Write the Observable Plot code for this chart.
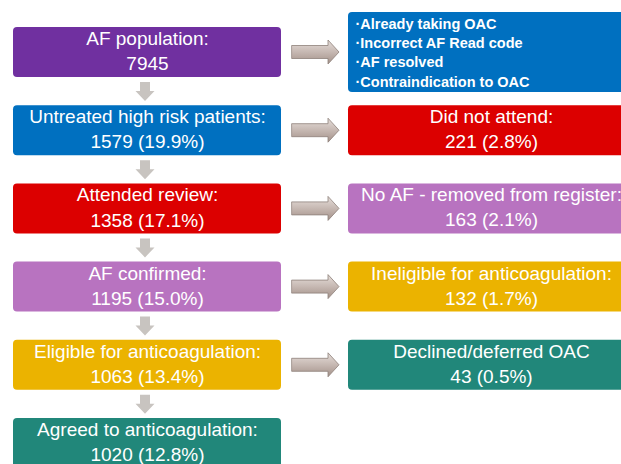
<!DOCTYPE html>
<html>
<head>
<meta charset="utf-8">
<script src="https://cdn.jsdelivr.net/npm/d3@7"></script>
<script src="https://cdn.jsdelivr.net/npm/@observablehq/plot@0.6"></script>
<style>
  html, body { margin: 0; padding: 0; background: #fff; overflow: hidden; }
  #chart svg { display: block; overflow: hidden; }
</style>
</head>
<body>
<div id="chart"></div>
<script>
// ---------------- data ----------------
const stageLabels = [
  "AF population:",
  "Untreated high risk patients:",
  "Attended review:",
  "AF confirmed:",
  "Eligible for anticoagulation:",
  "Agreed to anticoagulation:"
];
const stageCounts = [7945, 1579, 1358, 1195, 1063, 1020];
const stagePercents = [null, 19.9, 17.1, 15.0, 13.4, 12.8];

const firstExclusionReasons = [
  "Already taking OAC",
  "Incorrect AF Read code",
  "AF resolved",
  "Contraindication to OAC"
];
const exclusionLabels = [
  "Did not attend:",
  "No AF - removed from register:",
  "Ineligible for anticoagulation:",
  "Declined/deferred OAC"
];
const exclusionCounts = [221, 163, 132, 43];
const exclusionPercents = [2.8, 2.1, 1.7, 0.5];

// ---------------- styles ----------------
const stagePalette = ["#7030A0", "#0070C0", "#DC0000", "#B873C0", "#EBB300", "#21877A"];

// ---------------- layout (pixel units of the chart) ----------------
const W = 621, H = 464;
const L = {
  leftX1: 13, leftX2: 281,
  rightX1: 348, rightX2: 634,
  top0: 27, step: 78.2, boxH: 50,
  firstRightTop: 12, firstRightBottom: 92,
  bulletX: 355,
  arrowX1: 292, arrowNeck: 328, arrowTip: 339, shaftHalf: 6.5, headHalf: 12,
  downCx: 145, downShaftHalf: 5, downHeadHalf: 9.5, downStart: 5, downNeck: 14, downEnd: 24
};
const rowTop = i => L.top0 + L.step * i;
const rowMid = i => rowTop(i) + L.boxH / 2;
const fmt = (n, p) => p == null ? `${n}` : `${n} (${p.toFixed(1)}%)`;

const stages = stageLabels.map((label, i) => ({
  label, count: stageCounts[i], pct: stagePercents[i], i,
  color: stagePalette[i],
  x1: L.leftX1, x2: L.leftX2, y1: rowTop(i), y2: rowTop(i) + L.boxH
}));

const exclusions = [
  {i: 0, color: stagePalette[1], x1: L.rightX1, x2: L.rightX2, y1: L.firstRightTop, y2: L.firstRightBottom, text: null}
].concat(exclusionLabels.map((label, k) => ({
  i: k + 1, color: stagePalette[k + 2],
  x1: L.rightX1, x2: L.rightX2, y1: rowTop(k + 1), y2: rowTop(k + 1) + L.boxH,
  text: label + "\n" + fmt(exclusionCounts[k], exclusionPercents[k])
})));

// right block arrows (one per exclusion box) drawn as areas
const rightArrowPts = [];
exclusions.forEach((e, k) => {
  const c = rowMid(k);
  const pts = [
    [L.arrowX1, c - L.shaftHalf, c + L.shaftHalf],
    [L.arrowNeck, c - L.shaftHalf, c + L.shaftHalf],
    [L.arrowNeck, c - L.headHalf, c + L.headHalf],
    [L.arrowTip, c, c]
  ];
  pts.forEach(([x, y1, y2]) => rightArrowPts.push({id: k, x, y1, y2}));
});

// down block arrows between stages
const downArrowPts = [];
for (let i = 0; i < stages.length - 1; i++) {
  const b = stages[i].y2;
  const c = L.downCx;
  const pts = [
    [b + L.downStart, c - L.downShaftHalf, c + L.downShaftHalf],
    [b + L.downNeck, c - L.downShaftHalf, c + L.downShaftHalf],
    [b + L.downNeck, c - L.downHeadHalf, c + L.downHeadHalf],
    [b + L.downEnd, c, c]
  ];
  pts.forEach(([y, x1, x2]) => downArrowPts.push({id: i, y, x1, x2}));
}

const font = "Liberation Sans, Arial, Helvetica, sans-serif";

const chart = Plot.plot({
  width: W, height: H, margin: 0,
  x: {domain: [0, W], range: [0, W], axis: null},
  y: {domain: [0, H], range: [0, H], axis: null},
  color: {type: "identity"},
  style: {fontFamily: font, background: "#fff"},
  marks: [
    Plot.rect(stages, {x1: "x1", x2: "x2", y1: "y1", y2: "y2", fill: "color", rx: 4}),
    Plot.rect(exclusions, {x1: "x1", x2: "x2", y1: "y1", y2: "y2", fill: "color", rx: 4}),
    Plot.areaX(downArrowPts, {y: "y", x1: "x1", x2: "x2", z: "id", fill: "#C8C4C0", curve: "linear"}),
    Plot.areaY(rightArrowPts, {x: "x", y1: "y1", y2: "y2", z: "id", fill: "url(#arrowGrad)", stroke: "#8E807A", strokeWidth: 0.8, curve: "linear"}),
    Plot.text(stages, {
      x: d => (d.x1 + d.x2) / 2, y: d => (d.y1 + d.y2) / 2,
      text: d => d.label + "\n" + fmt(d.count, d.pct),
      fill: "white", fontSize: 19, lineHeight: 1.33, dy: -3, fontFamily: font
    }),
    Plot.text(exclusions.filter(d => d.text), {
      x: d => (d.x1 + d.x2) / 2, y: d => (d.y1 + d.y2) / 2,
      text: "text", fill: "white", fontSize: 19, lineHeight: 1.32, dy: -3, fontFamily: font
    }),
    Plot.text([firstExclusionReasons.map(r => "\u00B7" + r).join("\n")], {
      x: L.bulletX, y: (L.firstRightTop + L.firstRightBottom) / 2,
      text: d => d, textAnchor: "start", fill: "white", fontSize: 14.5,
      fontWeight: "bold", lineHeight: 1.33, dy: -1, fontFamily: font
    })
  ]
});

// gradient for the right arrows
const ns = "http://www.w3.org/2000/svg";
const defs = document.createElementNS(ns, "defs");
defs.innerHTML = `<linearGradient id="arrowGrad" x1="0" y1="0" x2="0" y2="1">
  <stop offset="0" stop-color="#E6DEDA"/>
  <stop offset="0.5" stop-color="#C6B8B2"/>
  <stop offset="1" stop-color="#A39189"/>
</linearGradient>`;
chart.insertBefore(defs, chart.firstChild);

document.getElementById("chart").appendChild(chart);
</script>
</body>
</html>
